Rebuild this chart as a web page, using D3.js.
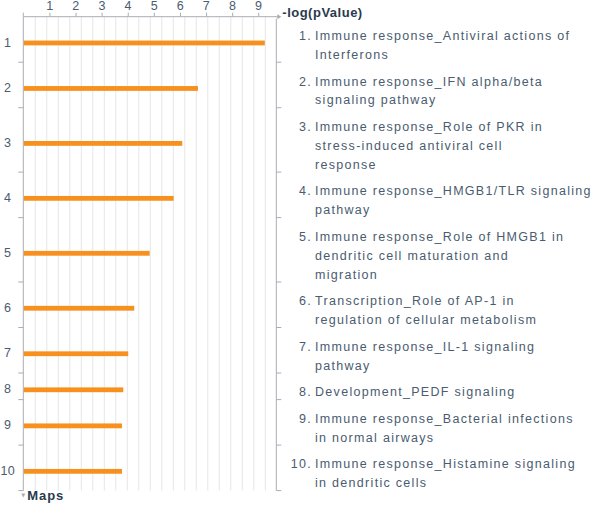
<!DOCTYPE html>
<html><head><meta charset="utf-8">
<script src="https://cdn.jsdelivr.net/npm/d3@7"></script>
<style>
html,body{margin:0;padding:0;background:#fff;}
svg{display:block;}
text{font-family:"Liberation Sans",Arial,sans-serif;}
</style></head>
<body>
<script>
// ---- data ----
const mapIds = [1,2,3,4,5,6,7,8,9,10];
const values = [9.23, 6.67, 6.07, 5.74, 4.82, 4.23, 4.00, 3.81, 3.76, 3.76];
const mapLabels = [
  ["Immune response_Antiviral actions of","Interferons"],
  ["Immune response_IFN alpha/beta","signaling pathway"],
  ["Immune response_Role of PKR in","stress-induced antiviral cell","response"],
  ["Immune response_HMGB1/TLR signaling","pathway"],
  ["Immune response_Role of HMGB1 in","dendritic cell maturation and","migration"],
  ["Transcription_Role of AP-1 in","regulation of cellular metabolism"],
  ["Immune response_IL-1 signaling","pathway"],
  ["Development_PEDF signaling"],
  ["Immune response_Bacterial infections","in normal airways"],
  ["Immune response_Histamine signaling","in dendritic cells"]
];
const xTicks = [1,2,3,4,5,6,7,8,9];
const xTitle = "-log(pValue)";
const yTitle = "Maps";

// ---- layout ----
const W = 600, H = 505;
const X0 = 23.3, X1 = 276.3, Y0 = 16.7;
const LH = 18.9, GAP = 7.7, BASE_OFF = 23.3;
const textCol = "#4a5c6f", darkCol = "#2a3a4c", axisCol = "#a9adb2", gridCol = "#e6e6e6", barCol = "#f7901e";

const svg = d3.select("body").append("svg").attr("width", W).attr("height", H);

const x = d3.scaleLinear().domain([0, 9.69]).range([X0, X1]);

// rows computed from line counts
let rowTop = Y0;
const rows = mapLabels.map((lines, i) => {
  const h = lines.length * LH + GAP;
  const first = rowTop + BASE_OFF;
  const last = first + (lines.length - 1) * LH;
  const r = {id: mapIds[i], value: values[i], lines, top: rowTop, bottom: rowTop + h, first, barY: (first + last) / 2 - 6.5};
  rowTop += h;
  return r;
});
const Y1 = rows[rows.length - 1].bottom;

// grid
const nCols = 22;
svg.append("g").selectAll("line")
  .data(d3.range(1, nCols))
  .join("line")
  .attr("x1", i => X0 + i * (X1 - X0) / nCols + 0.5)
  .attr("x2", i => X0 + i * (X1 - X0) / nCols + 0.5)
  .attr("y1", Y0).attr("y2", Y1)
  .attr("stroke", gridCol).attr("stroke-width", 1);

// top axis
const xAxis = d3.axisTop(x).tickValues(xTicks).tickSize(4).tickPadding(3).tickFormat(d3.format("d"));
const gx = svg.append("g").attr("transform", `translate(0,${Y0})`).call(xAxis);
gx.select(".domain").remove();
gx.selectAll(".tick line").attr("stroke", axisCol);
gx.selectAll(".tick text").attr("fill", textCol).attr("font-size", 12.5)
  .attr("font-family", "Liberation Sans, Arial, sans-serif").attr("letter-spacing", 0.5);
// axis lines
svg.append("line").attr("x1", X0).attr("x2", X1 + 2).attr("y1", Y0).attr("y2", Y0).attr("stroke", axisCol);
svg.append("line").attr("x1", X0).attr("x2", X0).attr("y1", Y0 - 4).attr("y2", Y0).attr("stroke", axisCol);
svg.append("path").attr("d", `M${X1 + 1},${Y0 - 2.5}L${X1 + 5},${Y0}L${X1 + 1},${Y0 + 2.5}Z`).attr("fill", axisCol);
svg.append("text").attr("x", X1 + 6).attr("y", Y0).text(xTitle)
  .attr("font-weight", "bold").attr("font-size", 13).attr("fill", darkCol).attr("letter-spacing", 0.5);

// left & right axis lines
svg.append("line").attr("x1", X0).attr("x2", X0).attr("y1", Y0).attr("y2", Y1).attr("stroke", axisCol);
svg.append("line").attr("x1", X1).attr("x2", X1).attr("y1", Y0 + 2).attr("y2", Y1).attr("stroke", axisCol);
// separators
const seps = rows.map(r => r.bottom);
svg.append("g").selectAll("line").data(seps).join("line")
  .attr("x1", X0 - 5).attr("x2", X0).attr("y1", d => d).attr("y2", d => d).attr("stroke", axisCol);
svg.append("g").selectAll("line").data(seps).join("line")
  .attr("x1", X1).attr("x2", X1 + 5).attr("y1", d => d).attr("y2", d => d).attr("stroke", axisCol);
svg.append("path").attr("d", `M${X0 - 2},${Y1 + 3}L${X0 + 2},${Y1 + 3}L${X0},${Y1 + 7}Z`).attr("fill", axisCol);
svg.append("text").attr("x", X0 + 4).attr("y", Y1 + 9.5).text(yTitle)
  .attr("font-weight", "bold").attr("font-size", 13).attr("fill", darkCol).attr("letter-spacing", 0.9);

// bars
svg.append("g").selectAll("rect").data(rows).join("rect")
  .attr("x", X0 + 0.5).attr("y", d => d.barY - 2.4)
  .attr("width", d => x(d.value) - X0).attr("height", 4.8)
  .attr("fill", barCol);

// left numbers
svg.append("g").selectAll("text").data(rows).join("text")
  .attr("x", 7.8).attr("y", d => d.barY + 3.6).attr("text-anchor", "middle")
  .attr("font-size", 12.5).attr("fill", textCol).attr("letter-spacing", 0.4)
  .text(d => d.id);

// right labels
const lg = svg.append("g").selectAll("g").data(rows).join("g");
lg.append("text").attr("x", 312).attr("y", d => d.first).attr("text-anchor", "end")
  .attr("font-size", 12.5).attr("fill", textCol).attr("letter-spacing", 1.3)
  .text(d => d.id + ".");
lg.each(function(d) {
  d3.select(this).selectAll("text.l").data(d.lines).join("text").attr("class", "l")
    .attr("x", 315).attr("y", (t, j) => d.first + j * LH)
    .attr("font-size", 12.5).attr("fill", textCol).attr("letter-spacing", 1.3)
    .text(t => t);
});
</script>
</body></html>
